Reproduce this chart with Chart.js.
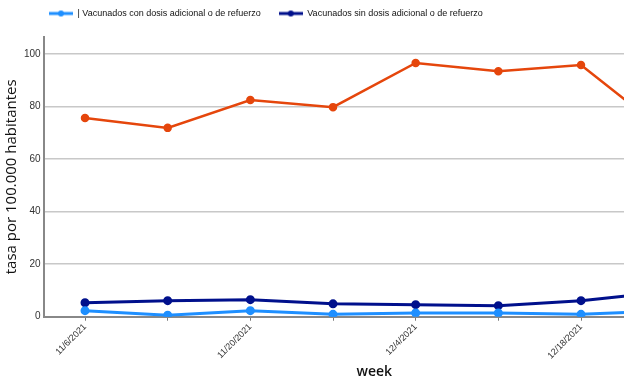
<!DOCTYPE html>
<html>
<head>
<meta charset="utf-8">
<script src="https://cdn.jsdelivr.net/npm/chart.js@4"></script>
<style>
    html, body { margin: 0; padding: 0; background: #ffffff; overflow: hidden; }
    #wrap { width: 712px; height: 385px; position: relative; }
</style>
</head>
<body>
<div id="wrap"><canvas id="chart"></canvas></div>
<script>
const weeks = ['11/6/2021', '11/13/2021', '11/20/2021', '11/27/2021', '12/4/2021', '12/11/2021', '12/18/2021', '12/25/2021'];
const conRefuerzo = [2.3, 0.6, 2.3, 0.9, 1.4, 1.4, 0.9, 2.2];
const sinRefuerzo = [5.3, 6.1, 6.5, 4.9, 4.6, 4.2, 6.1, 9.4];
const noVacunados = [75.7, 71.9, 82.5, 79.8, 96.6, 93.5, 95.8, 71.0];
const yTicks = [0, 20, 40, 60, 80, 100];

const lightBlue = '#1e8fff';
const darkBlue = '#00108c';
const orange = '#e5460c';
const small = '"Liberation Sans", Arial, sans-serif';
const wide = '"Open Sans", sans-serif';

// legend marker: short line with a dot in the middle
function legendMarker(color) {
    const c = document.createElement('canvas');
    c.width = 24;
    c.height = 8;
    const g = c.getContext('2d');
    g.strokeStyle = color;
    g.lineWidth = 3;
    g.beginPath();
    g.moveTo(0, 4);
    g.lineTo(24, 4);
    g.stroke();
    g.fillStyle = color;
    g.beginPath();
    g.arc(12, 4, 3, 0, Math.PI * 2);
    g.fill();
    return c;
}

// legend sits high and flush left, like the original
const legendShift = {
    id: 'legendShift',
    beforeLayout(chart) {
        const lg = chart.legend;
        if (lg && !lg._patched) {
            const fit = lg.fit;
            lg.fit = function() {
                fit.call(this);
                this.height = 30;
            };
            lg._patched = true;
        }
    },
    afterLayout(chart) {
        chart.legend.left += 28;
        chart.legend.top -= 16;
    }
};

new Chart(document.getElementById('chart'), {
    type: 'line',
    data: {
        labels: weeks,
        datasets: [
            {
                label: '| Vacunados con dosis adicional o de refuerzo',
                data: conRefuerzo,
                borderColor: lightBlue,
                backgroundColor: lightBlue,
                borderWidth: 3,
                pointRadius: 3,
                legendMarker: legendMarker(lightBlue)
            },
            {
                label: 'Vacunados sin dosis adicional o de refuerzo',
                data: sinRefuerzo,
                borderColor: darkBlue,
                backgroundColor: darkBlue,
                borderWidth: 3,
                pointRadius: 3,
                legendMarker: legendMarker(darkBlue)
            },
            {
                label: 'No vacunados',
                data: noVacunados,
                borderColor: orange,
                backgroundColor: orange,
                borderWidth: 2.5,
                pointRadius: 3,
                legendMarker: legendMarker(orange)
            }
        ]
    },
    options: {
        responsive: true,
        maintainAspectRatio: false,
        animation: false,
        layout: { padding: { top: 7, right: 0, bottom: 5, left: 3 } },
        plugins: {
            legend: {
                position: 'top',
                align: 'start',
                labels: {
                    usePointStyle: true,
                    pointStyleWidth: 24,
                    padding: 18,
                    color: '#111111',
                    font: { family: small, size: 9 },
                    filter: (item) => item.datasetIndex < 2,
                    generateLabels(chart) {
                        return chart.data.datasets.map((ds, i) => ({
                            text: ds.label,
                            pointStyle: ds.legendMarker,
                            fillStyle: ds.borderColor,
                            strokeStyle: ds.borderColor,
                            lineWidth: 0,
                            fontColor: '#111111',
                            hidden: false,
                            datasetIndex: i
                        }));
                    }
                }
            },
            tooltip: { enabled: false }
        },
        scales: {
            x: {
                offset: true,
                border: { color: '#888888', width: 2 },
                grid: { drawOnChartArea: false, drawTicks: true, tickLength: 4, color: '#777777' },
                ticks: {
                    autoSkip: false,
                    maxRotation: 45,
                    minRotation: 45,
                    padding: 1,
                    color: '#333333',
                    font: { family: small, size: 9 },
                    callback: function(value, index) {
                        return index % 2 === 0 ? weeks[index] : '';
                    }
                },
                title: {
                    display: true,
                    text: 'week',
                    color: '#111111',
                    font: { family: wide, size: 14, weight: '600' },
                    padding: { top: 1, bottom: 0 }
                }
            },
            y: {
                min: 0,
                max: 106.5,
                border: { color: '#888888', width: 2 },
                grid: { color: '#c8c8c8', lineWidth: 1.5, drawTicks: false },
                afterBuildTicks(scale) {
                    scale.ticks = yTicks.map(v => ({ value: v }));
                },
                ticks: {
                    color: '#333333',
                    padding: 3,
                    font: { family: small, size: 10 }
                },
                title: {
                    display: true,
                    text: 'tasa por 100.000 habitantes',
                    color: '#111111',
                    font: { family: wide, size: 15 },
                    padding: { top: 0, bottom: 0 }
                }
            }
        }
    },
    plugins: [legendShift]
});
</script>
</body>
</html>
